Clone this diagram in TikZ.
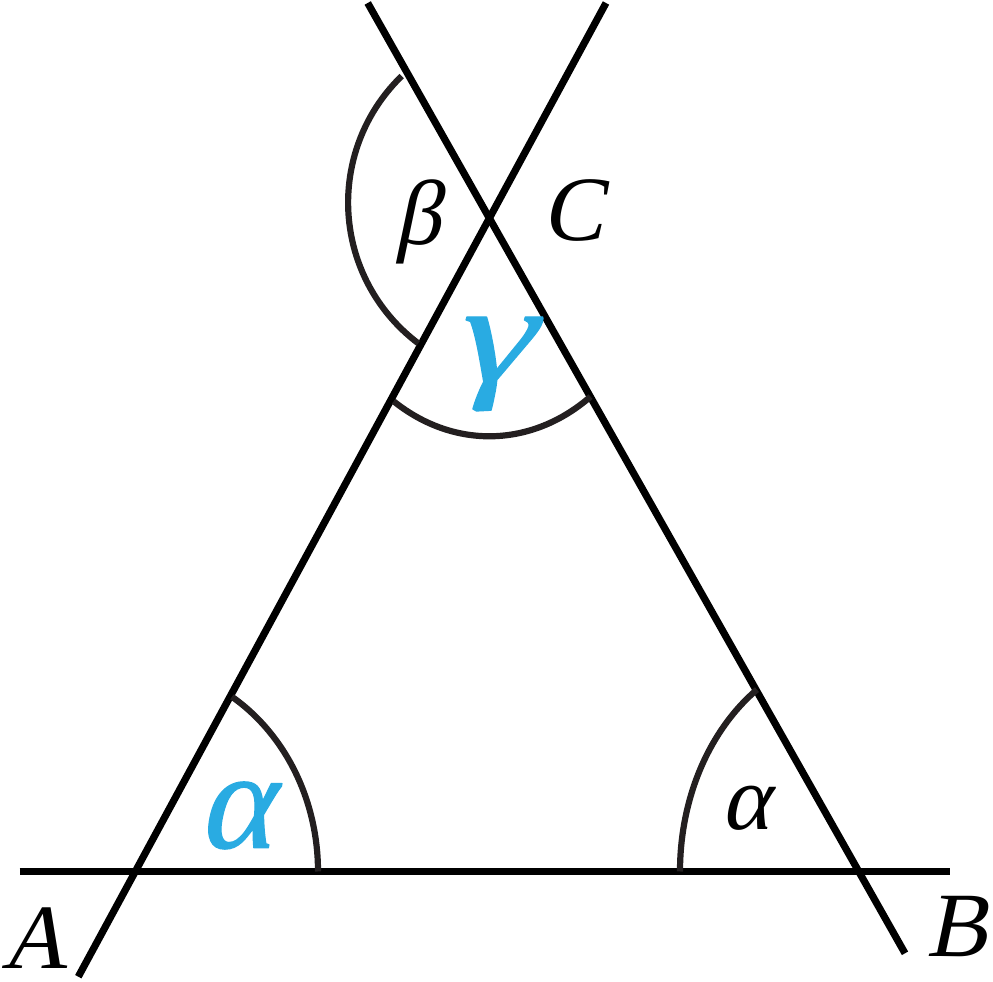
\documentclass[tikz,border=0pt]{standalone}
\usepackage{fontspec}
\setmainfont{Liberation Serif}
\newfontfamily\slserif{Liberation Serif}[FakeSlant=0.21]
\usetikzlibrary{calc}
\definecolor{arcgray}{RGB}{35,31,32}
\definecolor{angblue}{RGB}{41,171,226}
\newcommand{\strokedglyph}[2]{\special{pdf:literal direct 2 Tr #1 w 1 J 1 j}#2\special{pdf:literal direct 0 Tr}}
\tikzset{
  mainline/.style={line width=7.2pt, black},
  anglearc/.style={line width=6.2pt, arcgray},
  lbl/.style={inner sep=0pt, font=\fontsize{92}{92}\selectfont\slserif},
  bluelbl/.style={inner sep=0pt, text=angblue},
}
\begin{document}
\begin{tikzpicture}[x=1pt,y=1pt]
\useasboundingbox (0,0) rectangle (993,982);
% intersection points
\coordinate (A) at (135,110.5);
\coordinate (B) at (858,110.5);
\coordinate (C) at (489.3,763.7);
% line ends
\coordinate (hl) at (19.5,110.5);
\coordinate (hr) at (950,110.5);
\coordinate (l1) at (78.3,5.3);
\coordinate (l2) at (606,979);
\coordinate (r1) at (367.7,979);
\coordinate (r2) at (905,28.7);
\draw[mainline] (hl) -- (hr);
\draw[mainline] (l1) -- (l2);
\draw[mainline] (r1) -- (r2);
% angle arcs
\draw[anglearc] ($(A)+(183,0)$) arc[start angle=0, end angle=58, x radius=183, y radius=206];
\draw[anglearc] ($(B)+(-178,0)$) arc[start angle=180, end angle=124.6, x radius=178, y radius=221];
\draw[anglearc] (C) ++(-122.9:176 and 218) arc[start angle=-122.9, end angle=-54.9, x radius=176, y radius=218];
\coordinate (bc) at (524.3,779.4);
\draw[anglearc] (bc) ++(134.1:176.2) arc[start angle=134.1, end angle=233, radius=176.2];
% labels
\node[lbl] (lA) at (35,44) {A};
\node[lbl] (lB) at (957,55) {B};
\node[lbl] (lC) at (573,771) {C};
\node[lbl] (lbeta) at (418,760) {β};
\node[lbl] (lalpha) at (746,174) {α};
\node[bluelbl, font=\fontsize{140}{140}\selectfont\slserif, xscale=1.3, transform shape] (lgamma) at (490,618) {\strokedglyph{1.2}{γ}};
\node[bluelbl, font=\fontsize{140}{140}\selectfont\slserif] (lalphab) at (235,166.5) {\strokedglyph{1.2}{α}};
\end{tikzpicture}
\end{document}
